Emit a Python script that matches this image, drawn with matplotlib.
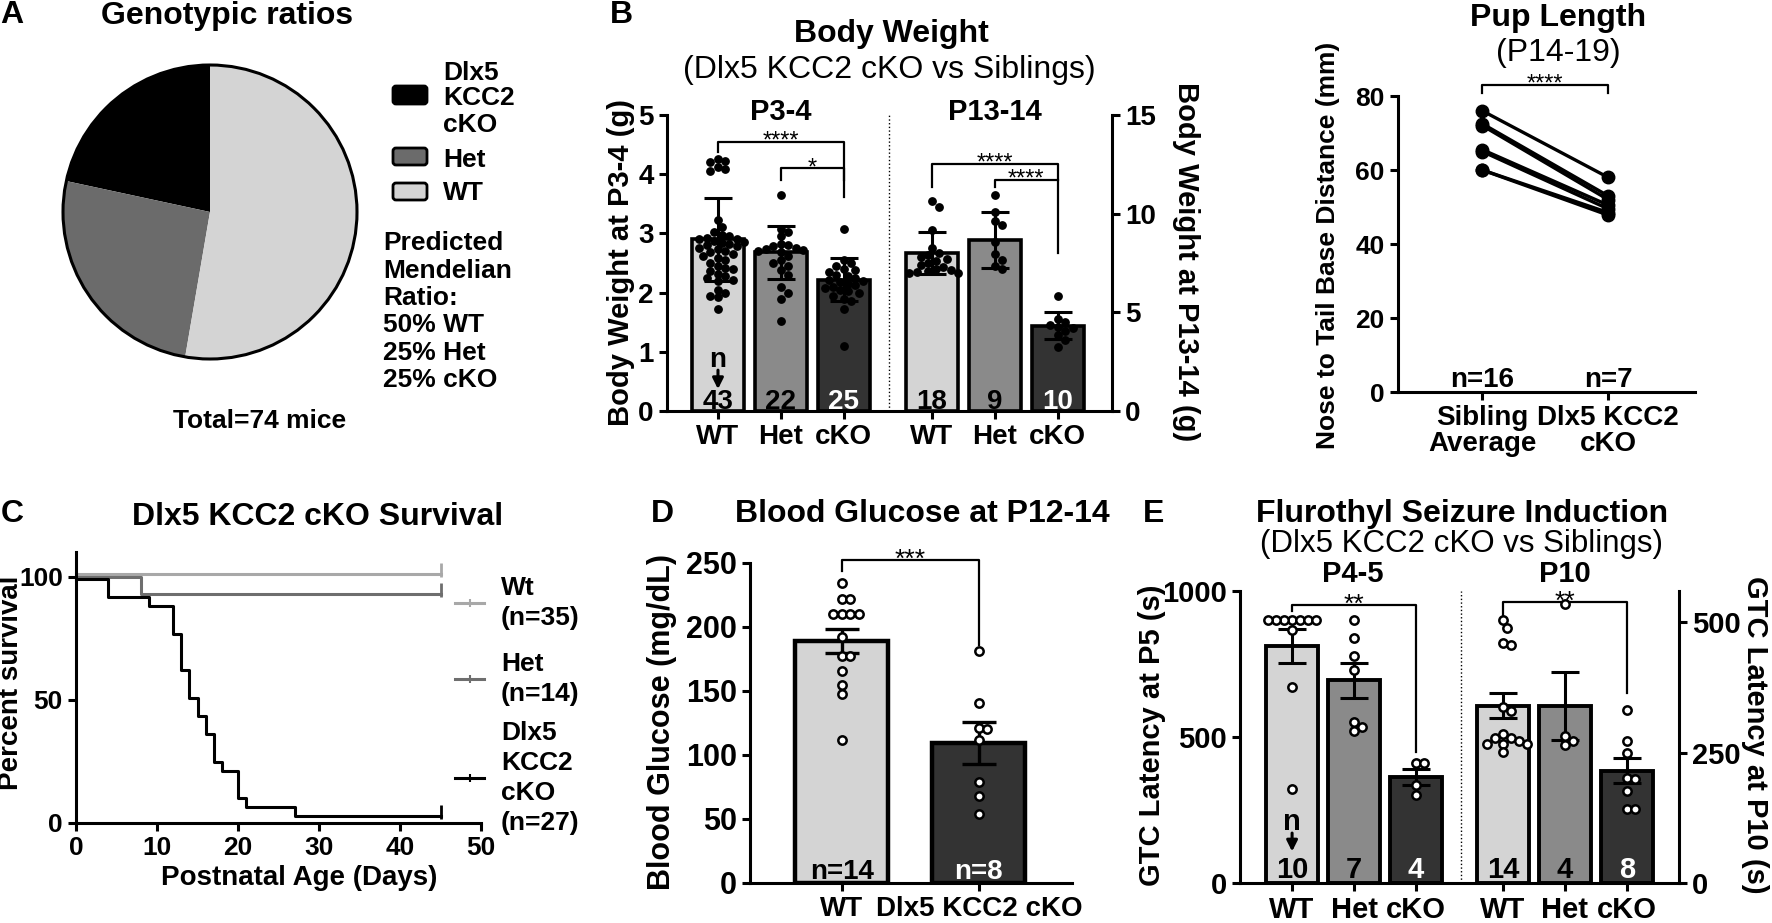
import numpy as np
import matplotlib
matplotlib.use("Agg")
import matplotlib.pyplot as plt
import matplotlib.transforms as mtransforms
from matplotlib.lines import Line2D
from matplotlib.patches import Circle, FancyBboxPatch

plt.rcParams.update(
    {
        "font.family": ["Liberation Sans", "DejaVu Sans"],
        "font.weight": "bold",
        "axes.labelweight": "bold",
        "axes.linewidth": 2.2,
        "xtick.major.width": 2.2,
        "ytick.major.width": 2.2,
        "xtick.major.size": 6,
        "ytick.major.size": 6,
        "xtick.labelsize": 20,
        "ytick.labelsize": 20,
    }
)

W, H = 1772, 923

PIE_COLORS = ["#000000", "#6b6b6b", "#d4d4d4"]
BAR_COLORS = ["#d4d4d4", "#8a8a8a", "#333333"]

# ---- A: genotype counts (cKO, Het, WT) ----
geno_counts = [16, 19, 39]

# ---- B: body weight ----
bw_groups = ["WT", "Het", "cKO"]
bw_p3_mean = [2.90, 2.68, 2.22]
bw_p3_sd = [0.70, 0.45, 0.37]
bw_p3_n = [43, 22, 25]
bw_p3_wt = [4.25, 4.22, 4.20, 4.12, 4.08, 4.05, 3.23, 3.11, 3.02, 2.98, 2.95, 2.93,
            2.91, 2.90, 2.88, 2.86, 2.84, 2.82, 2.80, 2.78, 2.76, 2.73, 2.70, 2.68,
            2.65, 2.62, 2.58, 2.55, 2.50, 2.45, 2.42, 2.40, 2.36, 2.32, 2.28, 2.25,
            2.22, 2.19, 2.05, 2.00, 1.95, 1.92, 1.73]
bw_p3_het = [3.65, 3.08, 3.02, 2.95, 2.82, 2.80, 2.78, 2.76, 2.74, 2.72, 2.70,
             2.68, 2.62, 2.55, 2.50, 2.45, 2.38, 2.30, 2.10, 2.00, 1.90, 1.52]
bw_p3_cko = [3.07, 2.55, 2.50, 2.45, 2.40, 2.38, 2.35, 2.30, 2.28, 2.25, 2.22,
             2.20, 2.18, 2.15, 2.12, 2.10, 2.08, 2.05, 2.02, 2.00, 1.95, 1.90,
             1.85, 1.72, 1.10]
bw_p13_mean = [8.0, 8.67, 4.33]
bw_p13_sd = [1.05, 1.40, 0.70]
bw_p13_n = [18, 9, 10]
bw_p13_wt = [10.65, 10.35, 9.15, 8.25, 8.0, 7.9, 7.8, 7.7, 7.6, 7.5, 7.4, 7.3,
             7.2, 7.15, 7.1, 7.05, 7.0, 7.0]
bw_p13_het = [10.95, 10.1, 9.65, 9.45, 8.55, 7.95, 7.65, 7.35, 7.2]
bw_p13_cko = [5.85, 4.65, 4.5, 4.35, 4.26, 4.2, 4.05, 3.84, 3.6, 3.24]

# ---- pup length (paired) ----
pup_labels = ["Sibling\nAverage", "Dlx5 KCC2\ncKO"]
pup_sibling = [76, 72.5, 72, 65.5, 65, 60, 60]
pup_cko = [58, 53, 52, 50.5, 49.5, 48.5, 47.8]
pup_n = [16, 7]

# ---- C: survival ----
surv_wt_days = [0, 45]
surv_wt_pct = [100, 100]
surv_het_days = [0, 8, 45]
surv_het_pct = [100, 92.9, 92.9]
surv_ko_days = [0, 4, 9, 12, 13, 14, 15, 16, 17, 18, 20, 21, 27, 45]
surv_ko_pct = [100, 92.6, 88.9, 77.8, 63.0, 51.9, 44.4, 37.0, 25.9, 22.2, 11.1, 7.4, 3.7, 3.7]
surv_labels = ["Wt\n(n=35)", "Het\n(n=14)", "Dlx5\nKCC2\ncKO\n(n=27)"]

# ---- D: blood glucose ----
glu_groups = ["WT", "Dlx5 KCC2 cKO"]
glu_mean = [189.0, 109.6]
glu_sem = [9.5, 16.5]
glu_n = [14, 8]
glu_wt = [234, 222, 222, 210, 210, 210, 210, 192, 177, 177, 166, 155, 148, 112]
glu_ko = [181, 141, 121, 120, 112, 79, 68, 54]

# ---- E: flurothyl seizure latency ----
sz_p5_mean = [812, 694, 363]
sz_p5_sem = [59, 60, 27]
sz_p5_n = [10, 7, 4]
sz_p5_wt = [900, 900, 900, 900, 900, 900, 900, 866, 672, 321]
sz_p5_het = [900, 840, 778, 729, 550, 535, 522]
sz_p5_cko = [411, 411, 335, 301]
sz_p10_mean = [340, 339, 215]
sz_p10_sem = [24, 65, 24]
sz_p10_n = [14, 4, 8]
sz_p10_wt = [505, 490, 460, 457, 337, 330, 286, 279, 279, 273, 267, 267, 266, 251]
sz_p10_het = [536, 282, 272, 264]
sz_p10_cko = [332, 272, 249, 201, 199, 176, 142, 141]


def px_rect(x0, y0, x1, y1):
    return [x0 / W, 1 - y1 / H, (x1 - x0) / W, (y1 - y0) / H]


def put(fig, x, y, s, size, weight="bold", ha="center", va="baseline", **kw):
    return fig.text(x / W, 1 - y / H, s, fontsize=size, fontweight=weight,
                    ha=ha, va=va, **kw)


def clean(ax):
    ax.spines["top"].set_visible(False)
    ax.spines["right"].set_visible(False)


def swarm_x(ax, center, values, diam):
    # simple beeswarm: nudge each point sideways until it no longer overlaps
    tr = ax.transData
    x0 = tr.transform((center, 0))[0]
    ppx = tr.transform((center + 1, 0))[0] - x0
    ys = np.array([tr.transform((center, v))[1] for v in values])
    placed = []
    xs = np.zeros(len(values))
    for i in np.argsort(-ys):
        k = 0
        while True:
            step = (k + 1) // 2 * (1 if k % 2 else -1)
            dx = step * diam * 0.5
            if all((dx - px) ** 2 + (ys[i] - py) ** 2 >= diam ** 2 for px, py in placed):
                break
            k += 1
        placed.append((dx, ys[i]))
        xs[i] = center + dx / ppx
    return xs


def bracket(ax, x1, x2, y, y1, y2, label, lx=None, size=17):
    ax.plot([x1, x1, x2, x2], [y1, y, y, y2], color="black", lw=1.6, clip_on=False)
    ax.annotate(label, xy=((x1 + x2) / 2 if lx is None else lx, y), xytext=(0, -0.25 * size),
                textcoords="offset points", ha="center", va="baseline",
                fontsize=size, fontweight="normal", annotation_clip=False)


def n_arrow(ax, x, y_text, y_from, y_to, size=20):
    ax.text(x, y_text, "n", ha="center", va="baseline", fontsize=size)
    ax.annotate("", xy=(x, y_to), xytext=(x, y_from),
                arrowprops=dict(arrowstyle="-|>", color="black", lw=2.2,
                                mutation_scale=16, shrinkA=0, shrinkB=0))


def bar_group(ax, pos, means, errs, groups, marker, diam, ms, lw, capsize):
    ax.bar(pos, means, 0.83, color=BAR_COLORS, edgecolor="black", linewidth=lw, zorder=1)
    ax.errorbar(pos, means, yerr=errs, fmt="none", ecolor="black", elinewidth=2.2,
                capsize=capsize, capthick=2.2, zorder=3)
    for p, vals in zip(pos, groups):
        xs = swarm_x(ax, p, vals, diam)
        if marker == "filled":
            ax.plot(xs, vals, "o", ms=ms, color="black", zorder=4, clip_on=False)
        else:
            ax.plot(xs, vals, "o", ms=ms, mfc="white", mec="black", mew=1.8,
                    zorder=4, clip_on=False)


def n_labels(ax, pos, ns, y, size=20):
    for p, n, c in zip(pos, ns, ["black", "black", "white"]):
        ax.text(p, y, str(n), ha="center", va="baseline", fontsize=size, color=c, zorder=5)


def panel_a(fig):
    ax = fig.add_axes(px_rect(63, 65, 357, 359))
    ax.pie(geno_counts, colors=PIE_COLORS, startangle=90, counterclock=True,
           radius=1, wedgeprops=dict(linewidth=0))
    ax.add_patch(Circle((0, 0), 1, fill=False, lw=2.2, ec="black", clip_on=False))
    ax.set_xlim(-1, 1)
    ax.set_ylim(-1, 1)

    put(fig, 12, 23, "A", 23)
    put(fig, 227, 24, "Genotypic ratios", 23)
    # legend swatches, drawn in pixel space so the corners stay round
    for (y0, y1), c in zip([(86, 104), (148, 165), (183, 200)], PIE_COLORS):
        fig.add_artist(FancyBboxPatch((393, H - y1), 34, y1 - y0,
                                      boxstyle="round,pad=0,rounding_size=3",
                                      transform=mtransforms.IdentityTransform(),
                                      fc=c, ec="black", lw=2))
    for y, s in [(80, "Dlx5"), (105, "KCC2"), (132, "cKO"), (167, "Het"), (200, "WT")]:
        put(fig, 443, y, s, 19, ha="left")
    for y, s in [(250, "Predicted"), (278, "Mendelian"), (305, "Ratio:"),
                 (332, "50% WT"), (360, "25% Het"), (387, "25% cKO")]:
        put(fig, 383, y, s, 19, ha="left")
    put(fig, 260, 428, "Total=74 mice", 19)


def panel_b(fig):
    ax = fig.add_axes(px_rect(667, 115, 1112, 411))
    ax.set_xlim(-0.81, 6.26)
    ax2 = ax.twinx()
    ax.set_ylim(0, 5)
    ax2.set_ylim(0, 15)
    pos1 = np.arange(3)
    pos2 = pos1 + 3.4

    bar_group(ax, pos1, bw_p3_mean, bw_p3_sd, [bw_p3_wt, bw_p3_het, bw_p3_cko],
              "filled", 7.5, 5.3, 2.6, 10)
    bar_group(ax2, pos2, bw_p13_mean, bw_p13_sd, [bw_p13_wt, bw_p13_het, bw_p13_cko],
              "filled", 7.5, 5.3, 2.6, 10)

    ax.plot([2.71, 2.71], [0, 5], ":", color="black", lw=1)
    bracket(ax, 0, 2, 4.55, 4.38, 3.62, "****")
    bracket(ax, 1, 2, 4.10, 3.90, 3.90, "*")
    bracket(ax2, pos2[0], pos2[2], 12.54, 11.34, 8.0, "****", lx=pos2[1])
    bracket(ax2, pos2[1], pos2[2], 11.7, 11.34, 11.7, "****", lx=4.9)

    n_labels(ax, pos1, bw_p3_n, 0.03)
    n_labels(ax2, pos2, bw_p13_n, 0.09)
    n_arrow(ax, 0, 0.74, 0.69, 0.37)

    clean(ax)
    ax2.spines["top"].set_visible(False)
    ax2.spines["left"].set_visible(False)
    ax2.spines["bottom"].set_visible(False)
    ax.set_yticks(range(6))
    ax2.set_yticks([0, 5, 10, 15])
    ax.set_xticks(np.r_[pos1, pos2])
    ax.set_xticklabels(bw_groups * 2)

    put(fig, 621, 23, "B", 23)
    put(fig, 891, 42, "Body Weight", 23)
    put(fig, 889, 78, "(Dlx5 KCC2 cKO vs Siblings)", 23, weight="normal")
    put(fig, 781, 120, "P3-4", 21)
    put(fig, 995, 120, "P13-14", 21)
    put(fig, 621, 262, "Body Weight at P3-4 (g)", 21, rotation=90, va="center")
    put(fig, 1186, 262, "Body Weight at P13-14 (g)", 21, rotation=270, va="center")


def panel_pup(fig):
    ax = fig.add_axes(px_rect(1398, 96, 1695, 392))
    ax.set_xlim(-0.67, 1.69)
    ax.set_ylim(0, 80)
    for a, b in zip(pup_sibling, pup_cko):
        ax.plot([0, 1], [a, b], "-o", color="black", lw=2.4, ms=9, clip_on=False)
    bracket(ax, 0, 1, 83, 80.7, 80.7, "****")
    for p, n in zip([0, 1], pup_n):
        ax.text(p, 1.4, f"n={n}", ha="center", va="baseline", fontsize=20)
    clean(ax)
    ax.set_yticks(range(0, 81, 20))
    ax.set_xticks([0, 1])
    ax.set_xticklabels(pup_labels, linespacing=1.0)
    ax.tick_params(axis="y", labelsize=19)

    put(fig, 1558, 26, "Pup Length", 23)
    put(fig, 1558, 61, "(P14-19)", 23, weight="normal")
    put(fig, 1328, 245, "Nose to Tail Base Distance (mm)", 19, rotation=90, va="center")


def panel_c(fig):
    ax = fig.add_axes(px_rect(76, 552, 481, 823))
    ax.set_xlim(0, 50)
    ax.set_ylim(0, 110)
    curves = [(surv_wt_days, surv_wt_pct, "#a8a8a8", 1.8),
              (surv_het_days, surv_het_pct, "#6e6e6e", 0.0),
              (surv_ko_days, surv_ko_pct, "#000000", -1.8)]
    for days, pct, color, shift in curves:
        # small vertical nudge (in points) so overlapping curves stay visible
        tr = ax.transData + mtransforms.ScaledTranslation(0, shift / 72, fig.dpi_scale_trans)
        ax.step(days, pct, where="post", color=color, lw=2.2, clip_on=False, transform=tr)
        ax.plot(days[-1], pct[-1], marker="|", ms=10, mew=2, color=color,
                transform=tr + mtransforms.ScaledTranslation(0, 3 / 72, fig.dpi_scale_trans))
    clean(ax)
    ax.set_xticks(range(0, 51, 10))
    ax.set_yticks([0, 50, 100])
    ax.tick_params(labelsize=19)

    # legend drawn by hand next to the curves
    for (y, color), lab in zip([(603, "#a8a8a8"), (679, "#6e6e6e"), (778, "#000000")], surv_labels):
        fig.add_artist(Line2D([455 / W, 484 / W], [1 - y / H] * 2, transform=fig.transFigure,
                              color=color, lw=2.2))
        fig.add_artist(Line2D([469.5 / W], [1 - y / H], transform=fig.transFigure,
                              color=color, marker="|", ms=6, mew=1.5))
        put(fig, 501, y, lab, 19, ha="left", va="center", linespacing=1.3)

    put(fig, 12, 522, "C", 23)
    put(fig, 318, 525, "Dlx5 KCC2 cKO Survival", 23)
    put(fig, 11, 683, "Percent survival", 20, rotation=90, va="center")
    put(fig, 299, 885, "Postnatal Age (Days)", 20)


def panel_d(fig):
    ax = fig.add_axes(px_rect(750, 563, 1072, 883))
    ax.set_xlim(-0.67, 1.68)
    ax.set_ylim(0, 250)
    pos = np.arange(2)
    ax.bar(pos, glu_mean, 0.68, color=[BAR_COLORS[0], BAR_COLORS[2]],
           edgecolor="black", linewidth=3.2, zorder=1)
    ax.errorbar(pos, glu_mean, yerr=glu_sem, fmt="none", ecolor="black", elinewidth=2.4,
                capsize=12, capthick=2.4, zorder=3)
    for p, vals in zip(pos, [glu_wt, glu_ko]):
        xs = swarm_x(ax, p, vals, 8.5)
        ax.plot(xs, vals, "o", ms=6, mfc="white", mec="black", mew=1.8, zorder=4)
    bracket(ax, 0, 1, 252, 244, 186, "***", size=19)
    for p, n, c in zip(pos, glu_n, ["black", "white"]):
        ax.text(p, 3, f"n={n}", ha="center", va="baseline", fontsize=20, color=c, zorder=5)
    clean(ax)
    ax.set_yticks(range(0, 251, 50))
    ax.set_xticks(pos)
    ax.set_xticklabels(glu_groups)
    ax.tick_params(axis="y", labelsize=22)

    put(fig, 662, 522, "D", 23)
    put(fig, 922, 522, "Blood Glucose at P12-14", 23)
    put(fig, 662, 722, "Blood Glucose (mg/dL)", 22, rotation=90, va="center")


def panel_e(fig):
    ax = fig.add_axes(px_rect(1240, 591, 1679, 883))
    ax.set_xlim(-0.84, 6.24)
    ax2 = ax.twinx()
    ax.set_ylim(0, 1000)
    ax2.set_ylim(0, 560)
    pos1 = np.arange(3)
    pos2 = pos1 + 3.4

    bar_group(ax, pos1, sz_p5_mean, sz_p5_sem, [sz_p5_wt, sz_p5_het, sz_p5_cko],
              "open", 8, 6, 2.8, 10)
    bar_group(ax2, pos2, sz_p10_mean, sz_p10_sem, [sz_p10_wt, sz_p10_het, sz_p10_cko],
              "open", 8, 6, 2.8, 10)

    ax.plot([2.73, 2.73], [0, 1000], ":", color="black", lw=1)
    bracket(ax, 0, 2, 952, 932, 449, "**", size=19)
    bracket(ax2, pos2[0], pos2[2], 539, 509, 365, "**", lx=pos2[1], size=19)

    n_labels(ax, pos1, sz_p5_n, 17, size=21)
    n_labels(ax2, pos2, sz_p10_n, 9.5, size=21)
    n_arrow(ax, 0, 181, 171, 108, size=21)

    clean(ax)
    ax2.spines["top"].set_visible(False)
    ax2.spines["left"].set_visible(False)
    ax2.spines["bottom"].set_visible(False)
    ax.set_yticks([0, 500, 1000])
    ax2.set_yticks([0, 250, 500])
    ax.set_xticks(np.r_[pos1, pos2])
    ax.set_xticklabels(["WT", "Het", "cKO"] * 2)
    ax.tick_params(labelsize=21)
    ax2.tick_params(labelsize=21)

    put(fig, 1154, 522, "E", 23)
    put(fig, 1462, 522, "Flurothyl Seizure Induction", 23)
    put(fig, 1462, 552, "(Dlx5 KCC2 cKO vs Siblings)", 22.5, weight="normal")
    put(fig, 1353, 582, "P4-5", 21)
    put(fig, 1565, 582, "P10", 21)
    put(fig, 1152, 735, "GTC Latency at P5 (s)", 21, rotation=90, va="center")
    put(fig, 1755, 735, "GTC Latency at P10 (s)", 21, rotation=270, va="center")


def main():
    fig = plt.figure(figsize=(W / 100, H / 100), dpi=100)
    panel_a(fig)
    panel_b(fig)
    panel_pup(fig)
    panel_c(fig)
    panel_d(fig)
    panel_e(fig)
    fig.savefig("out.png", dpi=100, facecolor="white")
    plt.close(fig)


if __name__ == "__main__":
    main()
